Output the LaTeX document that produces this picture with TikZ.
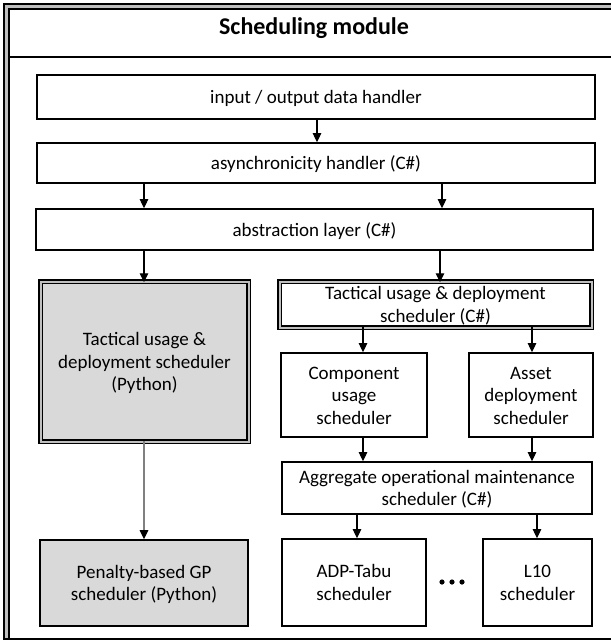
\documentclass[tikz,border=0pt]{standalone}
\usepackage{fontspec}
\setmainfont{Carlito}
\usetikzlibrary{arrows.meta}
\definecolor{boxgray}{HTML}{D9D9D9}
\definecolor{bandgray}{HTML}{BFBFBF}
\definecolor{linkgray}{HTML}{808080}
% centred lines of text, set slightly low inside their box
\newcommand{\boxtext}[1]{\raisebox{-2pt}[\height][\depth]{\begin{tabular}{@{}c@{}}#1\end{tabular}}}
\begin{document}
\begin{tikzpicture}[x=1pt,y=-1pt,
  every node/.style={font=\fontsize{19}{22.5}\selectfont, align=center, inner sep=0pt},
  plainbox/.style={draw=black, line width=1.7pt, fill=white},
  framedbox/.style={draw=black, line width=1.5pt, double=bandgray, double distance=2pt},
  arr/.style={draw=black, line width=1.1pt, -{Triangle[length=9pt,width=8.5pt]}},
  greyarr/.style={arr, draw=linkgray, line width=1.4pt, -{Triangle[length=9pt,width=8.5pt,color=black]}}
]
\useasboundingbox (0,0) rectangle (611,641);

% module frame: double border on top and left, single line at the bottom
\fill[bandgray] (4,4) rectangle (611,9);
\fill[bandgray] (4,4) rectangle (9,639);
\draw[line width=1.3pt] (611,4) -- (4,4) -- (4,639) -- (611,639);
\draw[line width=1.2pt] (611,9) -- (9,9) -- (9,639);
\draw[line width=2.8pt] (9,57) -- (611,57);
\node[font=\fontsize{24}{28}\selectfont\bfseries] (title) at (314,28.5) {Scheduling module};

% layered handlers
\node[plainbox, minimum width=558pt, minimum height=44pt] (io) at (316,97) {\boxtext{input / output data handler}};
\node[plainbox, minimum width=558pt, minimum height=40pt] (async) at (316,163) {\boxtext{asynchronicity handler (C\#)}};
\node[plainbox, minimum width=557pt, minimum height=41pt] (abstr) at (314.5,229.5) {\boxtext{abstraction layer (C\#)}};

% Python branch
\node[framedbox, fill=boxgray, minimum width=208pt, minimum height=160pt] (py) at (144.5,361.5)
  {\boxtext{Tactical usage \&\\deployment scheduler\\(Python)}};
\node[plainbox, fill=boxgray, minimum width=208pt, minimum height=86pt] (pen) at (144,583)
  {\boxtext{Penalty-based GP\\scheduler (Python)}};

% C# branch
\node[framedbox, fill=white, minimum width=312pt, minimum height=46pt] (cs) at (435.5,304.5)
  {\boxtext{Tactical usage \& deployment\\scheduler (C\#)}};
\node[plainbox, minimum width=146pt, minimum height=84pt] (comp) at (354,395) {\boxtext{Component\\usage\\scheduler}};
\node[plainbox, minimum width=124pt, minimum height=84pt] (asset) at (531,395) {\boxtext{Asset\\deployment\\scheduler}};
\node[plainbox, minimum width=310pt, minimum height=52pt] (agg) at (437,488)
  {\boxtext{Aggregate operational maintenance\\scheduler (C\#)}};
\node[plainbox, minimum width=144pt, minimum height=87pt] (adp) at (354,582.5) {\boxtext{ADP-Tabu\\scheduler}};
\node[plainbox, minimum width=109pt, minimum height=87pt] (l10) at (537.5,582.5) {\boxtext{L10\\scheduler}};

% ellipsis between the solver boxes
\foreach \dx in {-10,0,10}
  \fill (452+\dx,582) circle (2.6pt);

% connectors
\draw[arr] ([xshift=1pt]io.south) -- ([xshift=1pt]async.north);
\draw[arr] ([xshift=-172pt]async.south) -- ([xshift=-170.5pt]abstr.north);
\draw[arr] ([xshift=126pt]async.south) -- ([xshift=127.5pt]abstr.north);
\draw[arr] ([xshift=-170.5pt]abstr.south) -- ([xshift=-0.5pt,yshift=-1.5pt]py.north);
\draw[arr] ([xshift=125.5pt]abstr.south) -- ([xshift=4.5pt,yshift=-1.5pt]cs.north);
\draw[arr] ([xshift=-72.5pt,yshift=1.5pt]cs.south) -- ([xshift=9pt]comp.north);
\draw[arr] ([xshift=96.5pt,yshift=1.5pt]cs.south) -- ([xshift=1pt]asset.north);
\draw[arr] ([xshift=9pt]comp.south) -- ([xshift=-74pt]agg.north);
\draw[arr] ([xshift=1pt]asset.south) -- ([xshift=95pt]agg.north);
\draw[arr] ([xshift=-80pt]agg.south) -- ([xshift=3pt]adp.north);
\draw[arr] ([xshift=100pt]agg.south) -- ([xshift=-0.5pt]l10.north);
\draw[greyarr] ([xshift=-0.5pt,yshift=1.5pt]py.south) -- (pen.north);
\end{tikzpicture}
\end{document}
